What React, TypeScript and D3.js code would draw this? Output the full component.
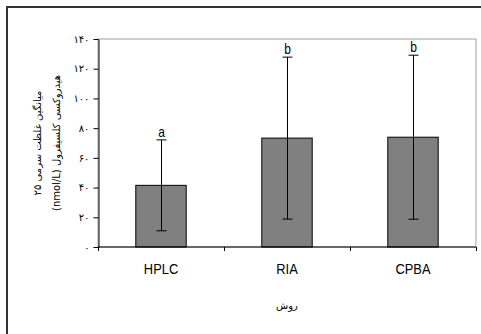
import React, { useRef, useEffect } from "react";
import * as d3 from "d3";

const methods = ["HPLC", "RIA", "CPBA"];
const means = [41.5, 73.3, 73.9];
const sds = [30.6, 54.5, 55.2];
const groupLetters = ["a", "b", "b"];
const yTicks = [0, 20, 40, 60, 80, 100, 120, 140];
const yTitleLines = ["میانگین غلظت سرمی ۲۵", "هیدروکسی کلسیفرول (nmol/L)"];
const xTitle = "روش";

const toPersian = (n: number) =>
    String(n).replace(/\d/g, (c) => "۰۱۲۳۴۵۶۷۸۹"[+c]);

const latinFont = "Arial, 'Liberation Sans', sans-serif";
// the original labels look like a condensed face, so squeeze them a little
const squeeze = 0.86;

export default function App() {
    const svgRef = useRef(null);
    const width = 481;
    const height = 334;

    useEffect(() => {
        const marginTop = 39;
        const marginRight = 5;
        const marginBottom = 87;
        const marginLeft = 98;

        const svg = d3.select(svgRef.current);
        svg.selectAll("*").remove();

        // outer chart frame, runs past the picture on the right and bottom
        svg
            .append("rect")
            .attr("x", 7)
            .attr("y", 7)
            .attr("width", width + 10)
            .attr("height", height + 10)
            .attr("fill", "white")
            .attr("stroke", "#333")
            .attr("stroke-width", 2);

        const x = d3
            .scaleBand()
            .domain(methods)
            .range([marginLeft, width - marginRight])
            .paddingInner(0.6)
            .paddingOuter(0.3);

        const y = d3
            .scaleLinear()
            .domain([0, 140])
            .range([height - marginBottom, marginTop]);

        // plot area border
        svg
            .append("rect")
            .attr("x", marginLeft)
            .attr("y", marginTop)
            .attr("width", width - marginRight - marginLeft)
            .attr("height", height - marginBottom - marginTop)
            .attr("fill", "none")
            .attr("stroke", "#a0a0a0")
            .attr("stroke-width", 1);

        svg
            .append("g")
            .selectAll("rect")
            .data(methods)
            .join("rect")
            .attr("x", (d) => x(d)!)
            .attr("y", (_, i) => y(means[i]))
            .attr("width", x.bandwidth())
            .attr("height", (_, i) => y(0) - y(means[i]))
            .attr("fill", "#808080")
            .attr("stroke", "black")
            .attr("stroke-width", 1);

        // error bars
        const err = svg.append("g").attr("stroke", "black").attr("stroke-width", 1);
        methods.forEach((m, i) => {
            const cx = Math.round(x(m)! + x.bandwidth() / 2) + 0.5;
            const top = y(means[i] + sds[i]);
            const bot = y(means[i] - sds[i]);
            err.append("line").attr("x1", cx).attr("x2", cx).attr("y1", top).attr("y2", bot);
            err.append("line").attr("x1", cx - 5).attr("x2", cx + 5).attr("y1", top).attr("y2", top);
            err.append("line").attr("x1", cx - 5).attr("x2", cx + 5).attr("y1", bot).attr("y2", bot);
            svg
                .append("text")
                .attr("transform", `translate(${cx},${top - 3}) scale(${squeeze},1)`)
                .attr("text-anchor", "middle")
                .attr("font-family", latinFont)
                .attr("font-size", 14)
                .attr("fill", "black")
                .text(groupLetters[i]);
        });

        // x axis
        const xAxis = svg
            .append("g")
            .attr("transform", `translate(0,${y(0)})`);
        xAxis
            .append("line")
            .attr("x1", marginLeft)
            .attr("x2", width - marginRight)
            .attr("stroke", "black");
        const bounds = [x.range()[0], ...methods.map((m) => x(m)! + x.bandwidth() + x.step() * 0.3)];
        xAxis
            .selectAll(".tk")
            .data(bounds)
            .join("line")
            .attr("x1", (d) => Math.round(d) + 0.5)
            .attr("x2", (d) => Math.round(d) + 0.5)
            .attr("y1", 0)
            .attr("y2", 4)
            .attr("stroke", "black");
        xAxis
            .selectAll("text")
            .data(methods)
            .join("text")
            .attr("transform", (d) => `translate(${x(d)! + x.bandwidth() / 2},27) scale(${squeeze},1)`)
            .attr("text-anchor", "middle")
            .attr("font-family", latinFont)
            .attr("font-size", 15)
            .text((d) => d);

        // y axis
        svg
            .append("g")
            .attr("transform", `translate(${marginLeft + 0.5},0)`)
            .call(d3.axisLeft(y).tickValues(yTicks).tickSize(5).tickSizeOuter(0).tickFormat((d) => toPersian(+d)))
            .call((g) => g.select(".domain").attr("stroke", "black"))
            .call((g) =>
                g
                    .selectAll(".tick text")
                    .attr("font-family", "'DejaVu Sans', serif")
                    .attr("font-size", 10)
                    .attr("x", -9)
            );

        // y title
        const yt = svg
            .append("text")
            .attr("transform", `translate(0,${(y(0) + y(140)) / 2}) rotate(-90)`)
            .attr("text-anchor", "middle")
            .attr("font-family", "'DejaVu Sans', Arial, sans-serif")
            .attr("font-size", 10)
            .attr("direction", "rtl");
        yt.selectAll("tspan")
            .data(yTitleLines)
            .join("tspan")
            .attr("x", 0)
            .attr("y", (_, i) => 41 + i * 19)
            .text((d) => d);

        svg
            .append("text")
            .attr("x", (x.range()[0] + x.range()[1]) / 2)
            .attr("y", 309)
            .attr("text-anchor", "middle")
            .attr("font-family", "'DejaVu Sans', Arial, sans-serif")
            .attr("font-size", 10)
            .attr("direction", "rtl")
            .text(xTitle);
    }, [width, height]);

    return (
        <svg
            ref={svgRef}
            width={width}
            height={height}
            viewBox={`0 0 ${width} ${height}`}
            style={{ position: "absolute", left: 0, top: 0, background: "white" }}
        ></svg>
    );
}
